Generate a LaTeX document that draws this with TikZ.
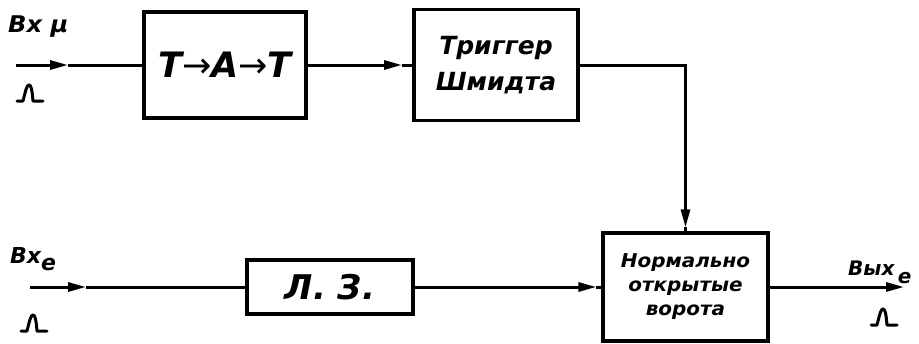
\documentclass[tikz,border=0pt]{standalone}
\usepackage{fontspec}
\usepackage{graphicx}
\setmainfont{DejaVu Sans}
\usetikzlibrary{arrows.meta}
\tikzset{
  blk/.style={draw, line width=3.2pt, inner sep=0pt, align=center},
  wire/.style={line width=3pt},
  arr/.style={wire, -{Triangle[length=18pt,width=9pt]}},
  lbl/.style={inner sep=0pt, anchor=base west},
  pulse/.pic={\draw[line width=3pt, line cap=round, line join=round]
    (-13,0) -- (-7,0) .. controls (-4,-12) and (-3,-16) .. (-1,-16)
    .. controls (1,-16) and (2,-12) .. (3,0) -- (13,0);}
}
\begin{document}
\begin{tikzpicture}[x=1pt,y=-1pt]
\useasboundingbox (0,0) rectangle (919,343);
% boxes
\node[blk, minimum width=162pt, minimum height=106pt,
      font=\bfseries\itshape\fontsize{35}{40}\selectfont] (tat) at (225,65)
      {Т{\mdseries\upshape→}А{\mdseries\upshape→}Т};
\node[blk, minimum width=164pt, minimum height=111pt,
      font=\bfseries\itshape\fontsize{25}{36}\selectfont] (trig) at (496,65)
      {Триггер\\Шмидта};
\node[blk, minimum width=166pt, minimum height=54pt,
      font=\bfseries\itshape\fontsize{34}{40}\selectfont] (lz) at (330,287)
      {Л. З.};
\node[blk, minimum width=165pt, minimum height=108pt,
      font=\bfseries\itshape\fontsize{19}{24}\selectfont] (gate) at (685.5,287)
      {\scalebox{1.05}[1]{Нормально}\\\scalebox{1.05}[1]{открытые}\\\scalebox{1.05}[1]{ворота}};
% labels
\node[lbl, font=\bfseries\itshape\fontsize{23}{26}\selectfont] (inmu) at (8,32)
      {\scalebox{1.05}[1]{Вх μ}};
\node[lbl, font=\bfseries\itshape\fontsize{22}{26}\selectfont] (ine) at (10,263)
      {Вх\raisebox{-7pt}{е}};
\node[lbl, font=\bfseries\itshape\fontsize{20}{24}\selectfont] (oute) at (848,275)
      {Вых\,\raisebox{-8pt}{е}};
% pulses
\pic at (30,101) {pulse};
\pic at (34,331) {pulse};
\pic at (884,325) {pulse};
% connectors
\coordinate (inA) at (16,65);
\coordinate (tipA) at (68,65);
\draw[arr] (inA) -- (tipA);
\draw[wire] (tipA) -- (tat.west);
\coordinate (tipB) at (402,65);
\draw[arr] (tat.east) -- (tipB);
\draw[wire] (tipB) -- (trig.west);
\coordinate (tipC) at ([yshift=4pt]gate.north);
\draw[arr] (trig.east) -| (tipC);
\draw[wire] (tipC) -- (gate.north);
\coordinate (inE) at (30,287);
\coordinate (tipD) at (86,287);
\draw[arr] (inE) -- (tipD);
\draw[wire] (tipD) -- (lz.west);
\coordinate (tipE) at ([xshift=-5pt]gate.west);
\draw[arr] (lz.east) -- (tipE);
\draw[wire] (tipE) -- (gate.west);
\coordinate (outE) at (904,287);
\draw[arr] (gate.east) -- (outE);
\end{tikzpicture}
\end{document}
